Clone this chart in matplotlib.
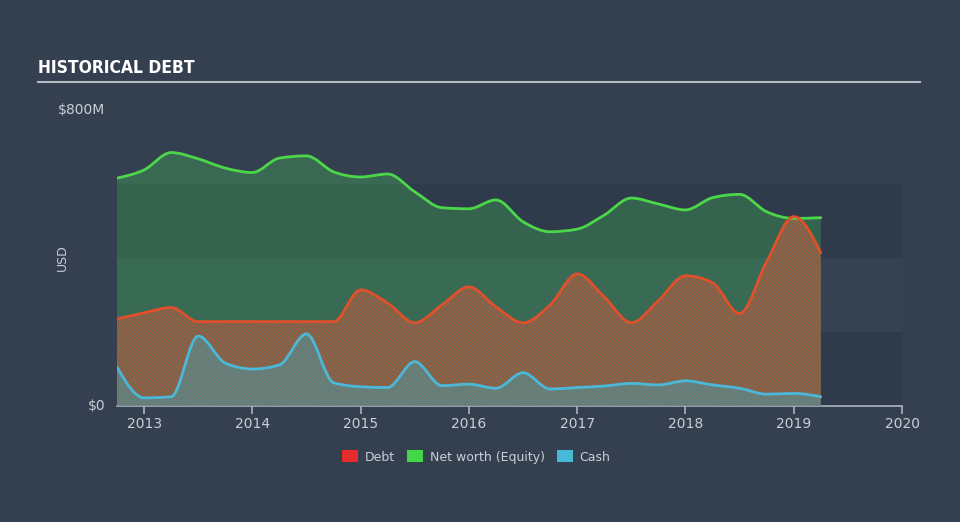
import numpy as np
import matplotlib
matplotlib.use("Agg")
import matplotlib.pyplot as plt
from matplotlib.path import Path
from matplotlib.patches import PathPatch, Patch

# ---- data (USD millions, quarterly) ----
dates = [2012.75, 2013.0, 2013.25, 2013.5, 2013.75, 2014.0, 2014.25, 2014.5, 2014.75,
         2015.0, 2015.25, 2015.5, 2015.75, 2016.0, 2016.25, 2016.5, 2016.75,
         2017.0, 2017.25, 2017.5, 2017.75, 2018.0, 2018.25, 2018.5, 2018.75,
         2019.0, 2019.25]
equity = [616, 638, 685, 668, 643, 631, 670, 676, 633,
          619, 627, 579, 536, 533, 557, 498, 471,
          478, 516, 562, 546, 530, 563, 572, 525,
          507, 509]
debt = [235, 252, 266, 228, 228, 228, 228, 228, 228,
        314, 278, 225, 273, 322, 268, 225, 273,
        357, 295, 225, 285, 352, 333, 250, 390,
        512, 414]
cash = [105, 22, 25, 189, 116, 100, 111, 195, 63,
        52, 50, 120, 55, 59, 48, 90, 46,
        50, 54, 61, 57, 68, 57, 48, 32,
        34, 25]

year_ticks = [2013, 2014, 2015, 2016, 2017, 2018, 2019, 2020]
legend_labels = ["Debt", "Net worth (Equity)", "Cash"]

BG = "#34404f"
BAND_DARK = "#2f3a4a"
BAND_LIGHT = "#344252"
TXT = "#c9ced6"


def monotone_tangents(x, y):
    x = np.asarray(x, float); y = np.asarray(y, float)
    n = len(x)
    h = np.diff(x)
    s = np.diff(y) / h
    t = np.zeros(n)
    for i in range(1, n - 1):
        h0, h1, s0, s1 = h[i - 1], h[i], s[i - 1], s[i]
        p = (s0 * h1 + s1 * h0) / (h0 + h1)
        t[i] = (np.sign(s0) + np.sign(s1)) * min(abs(s0), abs(s1), 0.5 * abs(p))
    t[0] = (3 * s[0] - t[1]) / 2
    t[-1] = (3 * s[-1] - t[-2]) / 2
    return t


def curve_vertices(x, y):
    t = monotone_tangents(x, y)
    verts = [(x[0], y[0])]
    codes = [Path.MOVETO]
    for i in range(len(x) - 1):
        dx = (x[i + 1] - x[i]) / 3.0
        verts += [(x[i] + dx, y[i] + dx * t[i]),
                  (x[i + 1] - dx, y[i + 1] - dx * t[i + 1]),
                  (x[i + 1], y[i + 1])]
        codes += [Path.CURVE4] * 3
    return verts, codes


def line_patch(x, y, color, lw):
    v, c = curve_vertices(x, y)
    return PathPatch(Path(v, c), facecolor="none", edgecolor=color, lw=lw,
                     capstyle="round", joinstyle="round", zorder=6)


def area_patch(x, y, **kw):
    v, c = curve_vertices(x, y)
    v = v + [(x[-1], 0), (x[0], 0), (x[0], y[0])]
    c = c + [Path.LINETO, Path.LINETO, Path.CLOSEPOLY]
    return PathPatch(Path(v, c), **kw)


plt.rcParams["hatch.linewidth"] = 1.25
fig = plt.figure(figsize=(9.6, 5.22), dpi=100, facecolor=BG)
ax = fig.add_axes([117 / 960, 1 - 406 / 522, (902 - 117) / 960, (406 - 110) / 522])
ax.set_facecolor(BG)
ax.set_xlim(2012.75, 2020.0)
ax.set_ylim(0, 800)

# background bands
ax.axhspan(0, 200, color=BAND_DARK, lw=0, zorder=0)
ax.axhspan(200, 400, color=BAND_LIGHT, lw=0, zorder=0)
ax.axhspan(400, 600, color=BAND_DARK, lw=0, zorder=0)

# equity area
ax.add_patch(area_patch(dates, equity, facecolor="#45c85a", alpha=0.30, lw=0, zorder=1))
# debt area (hatched)
ax.add_patch(area_patch(dates, debt, facecolor="#4f6a5b", lw=0, zorder=2))
ax.add_patch(area_patch(dates, debt, facecolor="none", edgecolor="#a35f40", hatch="/////////",
                        lw=0, zorder=3))
# cash area (translucent over the hatch)
ax.add_patch(area_patch(dates, cash, facecolor="#4a9aa8", alpha=0.5, lw=0, zorder=4))

# lines
ax.add_patch(line_patch(dates, equity, "#4cd64a", 2.0))
ax.add_patch(line_patch(dates, debt, "#e0502a", 2.0))
ax.add_patch(line_patch(dates, cash, "#4bb8d8", 2.0))

# axes styling
for sp in ["top", "right", "left"]:
    ax.spines[sp].set_visible(False)
ax.spines["bottom"].set_color("#aab4c2")
ax.spines["bottom"].set_linewidth(1.2)
ax.set_xticks(year_ticks)
ax.set_xticklabels([str(y) for y in year_ticks])
ax.tick_params(axis="x", colors="#aab4c2", length=6, width=1.2, labelcolor=TXT,
               labelsize=10, pad=2)
ax.set_yticks([])
ax.text(-0.015, 800, "$800M", transform=ax.get_yaxis_transform(), ha="right", va="center",
        color=TXT, fontsize=10)
ax.text(-0.015, 0, "$0", transform=ax.get_yaxis_transform(), ha="right", va="center",
        color=TXT, fontsize=10)
fig.text(62 / 960, 1 - 258 / 522, "USD", rotation=90, ha="center", va="center",
         color=TXT, fontsize=9)

# title
fig.text(38 / 960, 1 - 68 / 522, "HISTORICAL DEBT", ha="left", va="center", color="white",
         fontsize=12.5, fontweight="bold", fontstretch="condensed",
         family=["DejaVu Sans"])
fig.add_artist(plt.Line2D([38 / 960, 920 / 960], [1 - 82 / 522, 1 - 82 / 522],
                          transform=fig.transFigure, color="#b4bac2", lw=1.5))

# legend
handles = [Patch(facecolor="#e52b2b", edgecolor="none"),
           Patch(facecolor="#45d747", edgecolor="none"),
           Patch(facecolor="#48b8d8", edgecolor="none")]
leg = fig.legend(handles, legend_labels, loc="center", bbox_to_anchor=(0.496, 1 - 457 / 522),
                 ncol=3, frameon=False, fontsize=9, labelcolor=TXT, handlelength=1.3,
                 handleheight=1.1, columnspacing=1.0, handletextpad=0.5)

fig.savefig("out.png", dpi=100, facecolor=BG)
